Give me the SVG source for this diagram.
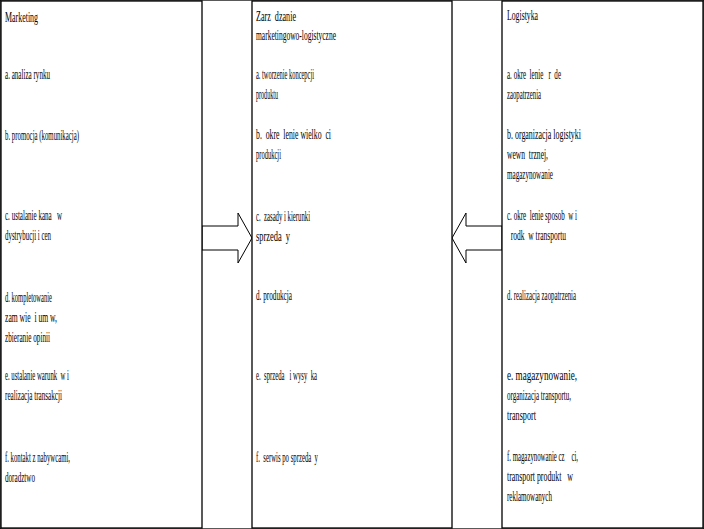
<svg xmlns="http://www.w3.org/2000/svg" width="704" height="529" viewBox="0 0 704 529" xml:space="preserve">
<style>
rect{fill:#fff;stroke:#000;stroke-width:1.3}
text{font-family:"Liberation Serif",serif;font-size:15px;fill:#000;white-space:pre}
.c{fill:#fff;stroke:#000;stroke-width:1}
</style>
<rect width="704" height="529" fill="#fff" stroke="none"/>
<g id="connectors">
<path class="c" d="M202,226 H238 V213 L252,238 L238,263 V250 H202 Z"/>
<path class="c" d="M502,226 H466 V213 L452,238 L466,263 V250 H502 Z"/>
</g>
<g id="marketing">
<rect x="1" y="1" width="201" height="527"/>
<text x="5" y="22" textLength="33" lengthAdjust="spacingAndGlyphs">Marketing</text>
<text x="5" y="79" textLength="45" lengthAdjust="spacingAndGlyphs">a. analiza rynku</text>
<text x="5" y="140" textLength="74" lengthAdjust="spacingAndGlyphs">b. promocja (komunikacja)</text>
<text x="5" y="220" textLength="57" lengthAdjust="spacingAndGlyphs">c. ustalanie kana   w</text>
<text x="5" y="240" textLength="46" lengthAdjust="spacingAndGlyphs">dystrybucji i cen</text>
<text x="5" y="302" textLength="47" lengthAdjust="spacingAndGlyphs">d. kompletowanie</text>
<text x="5" y="322" textLength="52" lengthAdjust="spacingAndGlyphs">zam wie  i um w,</text>
<text x="5" y="342" textLength="45" lengthAdjust="spacingAndGlyphs">zbieranie opinii</text>
<text x="5" y="380" textLength="64" lengthAdjust="spacingAndGlyphs">e. ustalanie warunk  w i</text>
<text x="5" y="400" textLength="57" lengthAdjust="spacingAndGlyphs">realizacja transakcji</text>
<text x="5" y="462" textLength="65" lengthAdjust="spacingAndGlyphs">f. kontakt z nabywcami,</text>
<text x="5" y="482" textLength="30" lengthAdjust="spacingAndGlyphs">doradztwo</text>
</g>
<g id="zarzadzanie">
<rect x="252" y="1" width="200" height="527"/>
<text x="256" y="21" textLength="40" lengthAdjust="spacingAndGlyphs">Zarz  dzanie</text>
<text x="256" y="40" textLength="80" lengthAdjust="spacingAndGlyphs">marketingowo-logistyczne</text>
<text x="256" y="79" textLength="58" lengthAdjust="spacingAndGlyphs">a. tworzenie koncepcji</text>
<text x="256" y="99" textLength="22" lengthAdjust="spacingAndGlyphs">produktu</text>
<text x="256" y="139" textLength="75" lengthAdjust="spacingAndGlyphs">b.  okre  lenie wielko  ci</text>
<text x="256" y="159" textLength="25" lengthAdjust="spacingAndGlyphs">produkcji</text>
<text x="256" y="221" textLength="54" lengthAdjust="spacingAndGlyphs">c.  zasady i kierunki</text>
<text x="256" y="241" textLength="34" lengthAdjust="spacingAndGlyphs">sprzeda  y</text>
<text x="256" y="300" textLength="36" lengthAdjust="spacingAndGlyphs">d. produkcja</text>
<text x="256" y="380" textLength="61" lengthAdjust="spacingAndGlyphs">e.  sprzeda   i wysy  ka</text>
<text x="256" y="462" textLength="62" lengthAdjust="spacingAndGlyphs">f.  serwis po sprzeda  y</text>
</g>
<g id="logistyka">
<rect x="502" y="1" width="201" height="527"/>
<text x="507" y="20" textLength="31" lengthAdjust="spacingAndGlyphs">Logistyka</text>
<text x="507" y="79" textLength="54" lengthAdjust="spacingAndGlyphs">a. okre  lenie   r  de</text>
<text x="507" y="99" textLength="34" lengthAdjust="spacingAndGlyphs">zaopatrzenia</text>
<text x="507" y="139" textLength="74" lengthAdjust="spacingAndGlyphs">b. organizacja logistyki</text>
<text x="507" y="159" textLength="41" lengthAdjust="spacingAndGlyphs">wewn  trznej,</text>
<text x="507" y="179" textLength="46" lengthAdjust="spacingAndGlyphs">magazynowanie</text>
<text x="507" y="220" textLength="70" lengthAdjust="spacingAndGlyphs">c. okre  lenie sposob  w i</text>
<text x="507" y="240" textLength="59" lengthAdjust="spacingAndGlyphs">  rodk  w transportu</text>
<text x="507" y="300" textLength="69" lengthAdjust="spacingAndGlyphs">d. realizacja zaopatrzenia</text>
<text x="507" y="380" textLength="70" lengthAdjust="spacingAndGlyphs">e. magazynowanie,</text>
<text x="507" y="400" textLength="64" lengthAdjust="spacingAndGlyphs">organizacja transportu,</text>
<text x="507" y="420" textLength="29" lengthAdjust="spacingAndGlyphs">transport</text>
<text x="507" y="461" textLength="71" lengthAdjust="spacingAndGlyphs">f. magazynowanie cz    ci,</text>
<text x="507" y="481" textLength="66" lengthAdjust="spacingAndGlyphs">transport produkt   w</text>
<text x="507" y="501" textLength="45" lengthAdjust="spacingAndGlyphs">reklamowanych</text>
</g>
</svg>
